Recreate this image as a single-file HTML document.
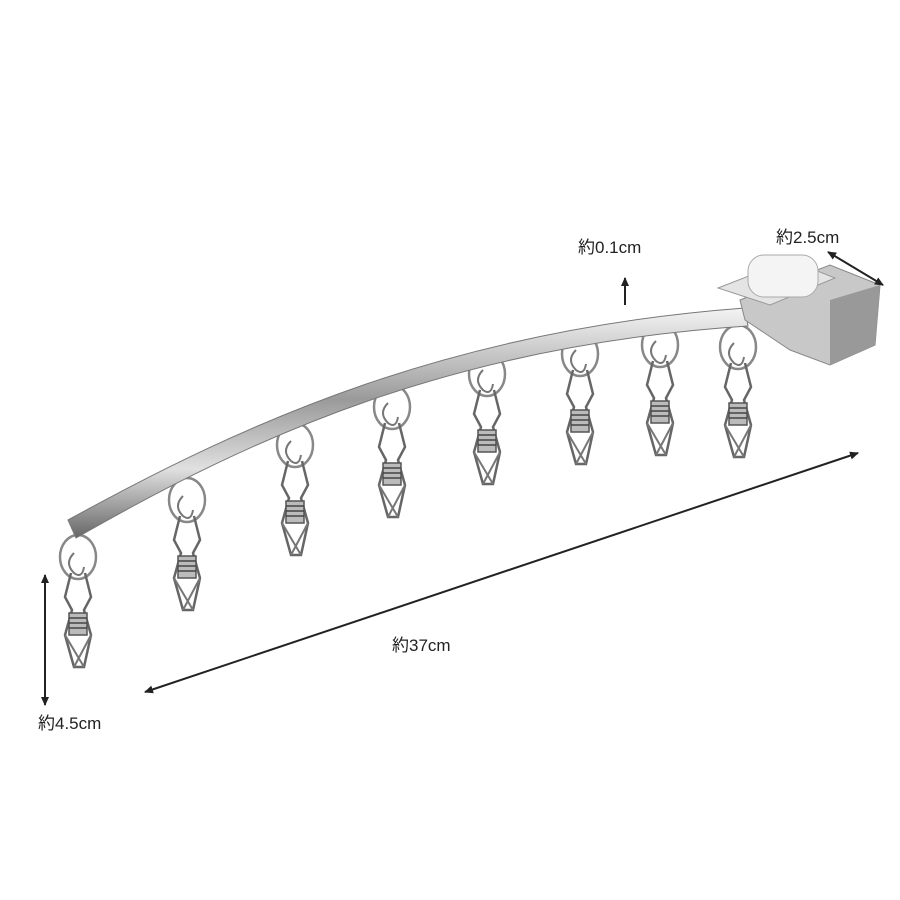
<!DOCTYPE html>
<html><head><meta charset="utf-8"><style>
html,body{margin:0;padding:0;background:#fff;}
svg{display:block}
text{font-family:"Liberation Sans","Noto Sans CJK JP",sans-serif;font-size:17px;fill:#222}
</style></head><body>
<svg width="900" height="900" viewBox="0 0 900 900" xmlns="http://www.w3.org/2000/svg">
<defs>
<linearGradient id="bar" x1="0" y1="0" x2="0" y2="1">
<stop offset="0" stop-color="#f4f4f4"/><stop offset="0.4" stop-color="#9a9a9a"/><stop offset="0.7" stop-color="#e0e0e0"/><stop offset="1" stop-color="#666"/>
</linearGradient>
<marker id="ah" markerWidth="10" markerHeight="10" refX="8" refY="5" orient="auto-start-reverse" markerUnits="userSpaceOnUse">
<path d="M0,1 L9,5 L0,9 z" fill="#222"/></marker>
<g id="clip">
<ellipse cx="0" cy="22" rx="18" ry="22" fill="none" stroke="#888" stroke-width="2.5"/>
<path d="M-4,18 q-10,10 0,20 q8,6 10,-6" fill="none" stroke="#777" stroke-width="2"/>
<path d="M-7,38 L-13,62 L-6,75 L-13,100 L-4,132 L6,132 L13,100 L6,75 L13,62 L7,38" fill="none" stroke="#666" stroke-width="2.5"/>
<path d="M-13,100 L6,132 M13,100 L-4,132" stroke="#777" stroke-width="2"/>
<rect x="-9" y="78" width="18" height="22" fill="#bbb" stroke="#555" stroke-width="1.5"/>
<path d="M-9,83 H9 M-9,88 H9 M-9,93 H9" stroke="#444" stroke-width="1.5"/>
</g>
</defs>
<!-- clips -->
<use href="#clip" x="78" y="535"/>
<use href="#clip" x="187" y="478"/>
<use href="#clip" x="295" y="423"/>
<use href="#clip" x="392" y="385"/>
<use href="#clip" x="487" y="352"/>
<use href="#clip" x="580" y="332"/>
<use href="#clip" x="660" y="323"/>
<use href="#clip" x="738" y="325"/>
<!-- bar -->
<path d="M68,520 C250,420 450,330 745,308 L748,326 C455,345 255,435 76,538 Z" fill="url(#bar)" stroke="#777" stroke-width="1"/>
<!-- bracket -->
<path d="M740,300 L830,265 L880,285 L875,345 L830,365 L790,350 L745,320 Z" fill="#c8c8c8" stroke="#888"/>
<path d="M830,300 L880,285 L875,345 L830,365 Z" fill="#999"/>
<path d="M718,288 L790,260 L835,278 L770,305 Z" fill="#e4e4e4" stroke="#999"/>
<rect x="748" y="255" width="70" height="42" rx="16" fill="#f4f4f4" stroke="#aaa"/>
<!-- dimension arrows -->
<line x1="145" y1="692" x2="858" y2="453" stroke="#222" stroke-width="2" marker-start="url(#ah)" marker-end="url(#ah)"/>
<line x1="45" y1="575" x2="45" y2="705" stroke="#222" stroke-width="2" marker-start="url(#ah)" marker-end="url(#ah)"/>
<line x1="828" y1="252" x2="883" y2="285" stroke="#222" stroke-width="2" marker-start="url(#ah)" marker-end="url(#ah)"/>
<line x1="625" y1="305" x2="625" y2="278" stroke="#222" stroke-width="2" marker-end="url(#ah)"/>
<text x="578" y="253">約0.1cm</text>
<text x="776" y="243">約2.5cm</text>
<text x="392" y="651">約37cm</text>
<text x="38" y="729">約4.5cm</text>
</svg>
</body></html>
